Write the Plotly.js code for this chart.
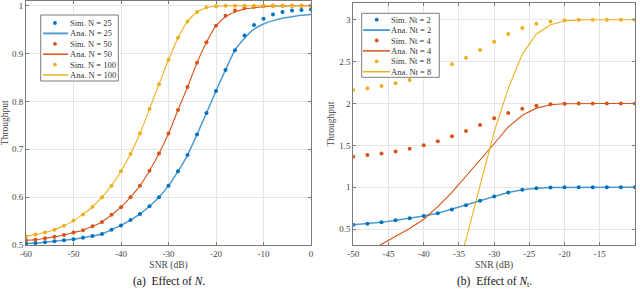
<!DOCTYPE html>
<html><head><meta charset="utf-8">
<script src="https://cdn.plot.ly/plotly-3.0.1.min.js"></script>
<style>html,body{margin:0;padding:0;background:#fff}#chart{width:640px;height:289px}</style>
</head><body><div id="chart"></div>
<script>
// ---------- data: panel (a) effect of N ----------
const snrA = [-60,-58,-56,-54,-52,-50,-48,-46,-44,-42,-40,-38,-36,-34,-32,-30,-28,-26,-24,-22,-20,-18,-16,-14,-12,-10,-8,-6,-4,-2,0];
const simN25 = [0.503,0.504,0.506,0.508,0.510,0.512,0.515,0.519,0.523,0.532,0.541,0.552,0.565,0.581,0.600,0.624,0.654,0.688,0.731,0.776,0.822,0.866,0.907,0.938,0.960,0.973,0.982,0.987,0.990,0.991,0.992];
const anaN25 = [0.503,0.504,0.506,0.508,0.510,0.512,0.515,0.519,0.523,0.532,0.541,0.552,0.565,0.581,0.600,0.624,0.654,0.688,0.731,0.776,0.822,0.866,0.907,0.932,0.951,0.962,0.969,0.974,0.977,0.980,0.982];
const simN50 = [0.510,0.511,0.514,0.517,0.521,0.526,0.531,0.539,0.548,0.563,0.579,0.600,0.624,0.655,0.691,0.733,0.782,0.830,0.881,0.924,0.958,0.979,0.990,0.996,0.998,0.999,1,1,1,1,1];
const anaN50 = [0.510,0.511,0.514,0.517,0.521,0.526,0.531,0.539,0.548,0.563,0.579,0.600,0.624,0.655,0.691,0.733,0.782,0.830,0.881,0.924,0.958,0.977,0.987,0.993,0.996,0.998,0.999,0.9995,1,1,1];
const simN100 = [0.518,0.522,0.526,0.532,0.540,0.551,0.564,0.580,0.600,0.624,0.654,0.690,0.733,0.784,0.836,0.887,0.933,0.967,0.987,0.997,0.999,1,1,1,1,1,1,1,1,1,1];
const anaN100 = [0.518,0.522,0.526,0.532,0.540,0.551,0.564,0.580,0.600,0.624,0.654,0.690,0.733,0.784,0.836,0.887,0.933,0.967,0.987,0.996,0.999,1,1,1,1,1,1,1,1,1,1];
const namesA = ['Sim. N = 25','Ana. N = 25','Sim. N = 50','Ana. N = 50','Sim. N = 100','Ana. N = 100'];
const xTickValsA = [-60,-50,-40,-30,-20,-10,0];
const xTickTextA = ['-60','-50','-40','-30','-20','-10','0'];
const yTickValsA = [0.5,0.6,0.7,0.8,0.9,1];
const yTickTextA = ['0.5','0.6','0.7','0.8','0.9','1'];

// ---------- data: panel (b) effect of Nt ----------
const snrB = [-50,-48,-46,-44,-42,-40,-38,-36,-34,-32,-30,-28,-26,-24,-22,-20,-18,-16,-14,-12,-10];
const simNt2 = [0.554,0.566,0.582,0.606,0.630,0.657,0.690,0.737,0.785,0.840,0.890,0.938,0.970,0.990,0.998,1,1,1,1,1,1];
const anaNt2 = [0.554,0.566,0.582,0.606,0.630,0.657,0.690,0.737,0.785,0.840,0.890,0.938,0.970,0.990,0.998,1,1,1,1,1,1];
const simNt4 = [1.365,1.385,1.405,1.429,1.461,1.501,1.549,1.609,1.672,1.743,1.823,1.887,1.938,1.974,1.990,1.998,2,2,2,2,2];
const anaNt4 = [0.14,0.22,0.32,0.41,0.51,0.62,0.77,0.94,1.13,1.33,1.52,1.72,1.86,1.945,1.985,1.997,2,2,2,2,2];
const simNt8 = [2.161,2.181,2.209,2.241,2.280,2.330,2.391,2.468,2.547,2.638,2.738,2.829,2.901,2.952,2.980,2.993,3,3,3,3,3];
const anaNt8 = [null,null,null,null,null,null,null,-0.22,0.38,1.02,1.66,2.18,2.59,2.83,2.94,2.985,2.998,3,3,3,3];
const namesB = ['Sim. Nt = 2','Ana. Nt = 2','Sim. Nt = 4','Ana. Nt = 4','Sim. Nt = 8','Ana. Nt = 8'];
const xTickValsB = [-50,-45,-40,-35,-30,-25,-20,-15,-10];
const xTickTextB = ['-50','-45','-40','-35','-30','-25','-20','-15','-10'];
const yTickValsB = [0.5,1,1.5,2,2.5,3];
const yTickTextB = ['0.5','1','1.5','2','2.5','3'];

// ---------- styling ----------
const W = 640, H = 289;
const SERIF = 'Liberation Serif';
const BLUE = '#0072BD', RED = '#D95319', YEL = '#EDB120';
const colors = [BLUE, BLUE, RED, RED, YEL, YEL];
const kinds = ['sim','ana','sim','ana','sim','ana'];
const lineW = [0, 1.5, 0, 1.1, 0, 1.1];
const lineC = ['rgba(0,114,189,0.7)', 'rgba(0,114,189,0.7)', RED, RED, YEL, YEL];
const px = x => x / W;
const py = y => 1 - y / H;

const seriesA = [simN25, anaN25, simN50, anaN50, simN100, anaN100];
const seriesB = [simNt2, anaNt2, simNt4, anaNt4, simNt8, anaNt8];

const traces = [];
function addTraces(xs, series, names, xa, ya, shape) {
  series.forEach((ys, i) => {
    if (kinds[i] === 'sim') {
      traces.push({x: xs, y: ys, name: names[i], xaxis: xa, yaxis: ya, type: 'scatter', mode: 'markers',
        marker: {color: colors[i], size: 4}, showlegend: false, hoverinfo: 'x+y'});
    } else {
      traces.push({x: xs, y: ys, name: names[i], xaxis: xa, yaxis: ya, type: 'scatter', mode: 'lines',
        line: {color: lineC[i], width: lineW[i], shape: shape, smoothing: 0.8}, connectgaps: false,
        showlegend: false, hoverinfo: 'x+y'});
    }
  });
}
addTraces(snrA, seriesA, namesA, 'x', 'y', 'spline');
addTraces(snrB, seriesB, namesB, 'x2', 'y2', 'linear');

const shapes = [], annotations = [];
function addLegend(names, box, row0, step, mx, lx0, lx1, tx) {
  shapes.push({type: 'rect', xref: 'paper', yref: 'paper', x0: px(box[0]), x1: px(box[1]), y0: py(box[3]), y1: py(box[2]),
    fillcolor: '#ffffff', line: {color: '#6e6e6e', width: 0.9}, layer: 'above'});
  names.forEach((n, i) => {
    const y = row0 + i * step;
    if (kinds[i] === 'sim') {
      shapes.push({type: 'circle', xref: 'paper', yref: 'paper', x0: px(mx - 1.9), x1: px(mx + 1.9), y0: py(y + 1.9), y1: py(y - 1.9),
        fillcolor: colors[i], line: {width: 0}, layer: 'above'});
    } else {
      shapes.push({type: 'line', xref: 'paper', yref: 'paper', x0: px(lx0), x1: px(lx1), y0: py(y), y1: py(y),
        line: {color: lineC[i], width: lineW[i] + 0.4}, layer: 'above'});
    }
    annotations.push({xref: 'paper', yref: 'paper', x: px(tx), y: py(y), xanchor: 'left', yanchor: 'middle',
      text: n, showarrow: false, borderpad: 0, font: {family: SERIF, size: 8.5, color: '#333'}});
  });
}
addLegend(namesA, [40.7, 118.3, 15, 81], 23, 10.4, 55, 43, 68, 68.5);
addLegend(namesB, [361.7, 439.3, 13.3, 77.3], 19.7, 10.4, 376.7, 363, 390, 390);

annotations.push({xref: 'paper', yref: 'paper', x: px(168.5), y: py(281.5), xanchor: 'center', yanchor: 'middle',
  text: '(a)  Effect of <i>N</i>.', showarrow: false, borderpad: 0, font: {family: SERIF, size: 11.5, color: '#111'}});
annotations.push({xref: 'paper', yref: 'paper', x: px(494), y: py(281.5), xanchor: 'center', yanchor: 'middle',
  text: '(b)  Effect of <i>N</i><sub>t</sub>.', showarrow: false, borderpad: 0, font: {family: SERIF, size: 11.5, color: '#111'}});

function axis(extra) {
  return Object.assign({
    showline: true, linecolor: '#7a7a7a', linewidth: 1, mirror: 'ticks',
    ticks: 'inside', ticklen: 3, tickcolor: '#7a7a7a', tickwidth: 1,
    showgrid: true, gridcolor: '#e6e6e6', gridwidth: 1, zeroline: false,
    tickmode: 'array', automargin: false, fixedrange: true,
    tickfont: {family: SERIF, size: 9, color: '#444'}
  }, extra);
}

const layout = {
  width: W, height: H,
  margin: {l: 0, r: 0, t: 0, b: 0},
  paper_bgcolor: '#fff', plot_bgcolor: '#fff',
  showlegend: false,
  font: {family: SERIF, color: '#333'},
  xaxis: axis({domain: [px(26), px(311)], range: [-60, 0], anchor: 'y', tickvals: xTickValsA, ticktext: xTickTextA,
    title: {text: 'SNR (dB)', font: {family: SERIF, size: 9.5, color: '#444'}, standoff: 3}}),
  yaxis: axis({domain: [py(245), py(0.5)], range: [0.5, 1.011], anchor: 'x', tickvals: yTickValsA, ticktext: yTickTextA,
    title: {text: 'Throughput', font: {family: SERIF, size: 9.5, color: '#444'}, standoff: 2}}),
  xaxis2: axis({domain: [px(353.3), px(635)], range: [-50, -10], anchor: 'y2', tickvals: xTickValsB, ticktext: xTickTextB,
    title: {text: 'SNR (dB)', font: {family: SERIF, size: 9.5, color: '#444'}, standoff: 3}}),
  yaxis2: axis({domain: [py(245), py(3.3)], range: [0.312, 3.196], anchor: 'x2', tickvals: yTickValsB, ticktext: yTickTextB,
    title: {text: 'Throughput', font: {family: SERIF, size: 9.5, color: '#444'}, standoff: 2}}),
  shapes: shapes,
  annotations: annotations
};

Plotly.newPlot('chart', traces, layout, {displayModeBar: false, staticPlot: true});
</script>
</body></html>
